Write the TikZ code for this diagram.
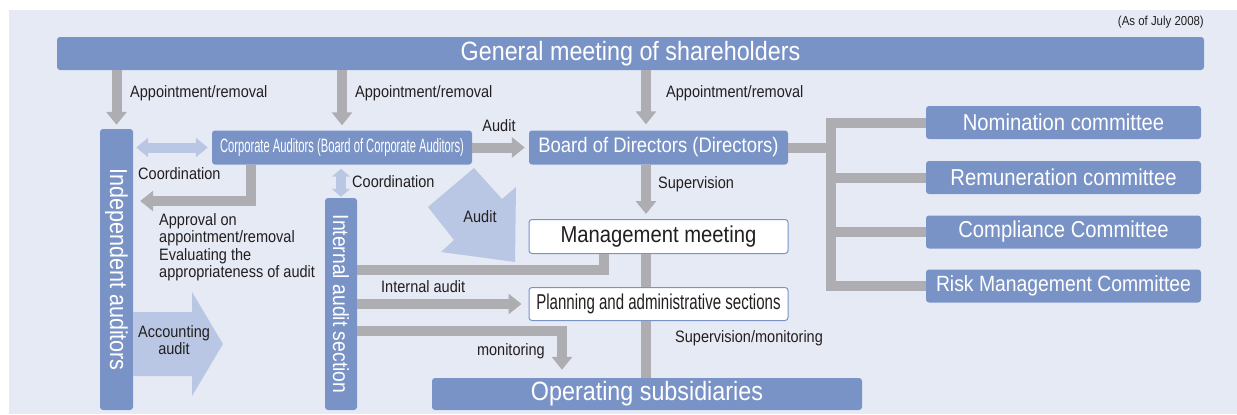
\documentclass[tikz,border=0pt]{standalone}
\usepackage{fontspec}
\setmainfont{Liberation Sans}[FakeStretch=0.88]
\newfontfamily\corpfont{Liberation Sans}[FakeStretch=0.58]
\newfontfamily\planfont{Liberation Sans}[FakeStretch=0.70]
\usepackage{xcolor}
\usepackage{tikz}
\usetikzlibrary{arrows.meta, positioning, calc}
\definecolor{bgblue}{HTML}{E6EAF5}
\definecolor{boxblue}{HTML}{7A93C6}
\definecolor{arrowgray}{HTML}{AEADB2}
\definecolor{lightarrow}{HTML}{BAC7E4}
\definecolor{textdark}{HTML}{231F20}
\tikzset{
    bluebox/.style={rectangle, rounded corners=3pt, fill=boxblue, text=white, inner sep=0pt},
    whitebox/.style={rectangle, rounded corners=3pt, draw=boxblue, line width=1pt, fill=white, text=textdark, inner sep=0pt},
    grayarrow/.style={draw=arrowgray, line width=10pt, -{Triangle[width=20pt, length=13pt]}},
    grayline/.style={draw=arrowgray, line width=10pt},
    coordarrow/.style={draw=lightarrow, line width=10pt, {Triangle[width=19pt, length=12pt]}-{Triangle[width=19pt, length=12pt]}},
    lbl/.style={text=textdark, inner sep=0pt, font=\fontsize{16.5}{17.5}\selectfont},
    bigfont/.style={font=\fontsize{26.5}{30}\selectfont},
    comfont/.style={font=\fontsize{23}{26}\selectfont}
}

\begin{document}
\begin{tikzpicture}[x=1pt, y=-1pt]
    \useasboundingbox (0,0) rectangle (1237,415);
    \fill[bgblue] (9,10) rectangle (1237,414);

    \node[text=textdark, inner sep=0pt, anchor=east, font=\fontsize{13}{15}\selectfont] (asof) at (1204,22) {(As of July 2008)};

    % Boxes
    \node[bluebox, bigfont, minimum width=1147pt, minimum height=33pt] (gms) at (630.5,53.5) {General meeting of shareholders};
    \node[bluebox, rotate=-90, minimum width=281pt, minimum height=33pt, font=\fontsize{24.5}{28}\selectfont] (indep) at (116.5,269.5) {Independent auditors};
    \node[bluebox, minimum width=260pt, minimum height=34pt, font=\corpfont\fontsize{19.3}{22}\selectfont] (corp) at (342,147.5) {Corporate Auditors (Board of Corporate Auditors)};
    \node[bluebox, minimum width=259pt, minimum height=34pt, font=\fontsize{21}{24}\selectfont] (board) at (658.5,147.5) {Board of Directors (Directors)};
    \node[bluebox, rotate=-90, minimum width=212pt, minimum height=32pt, font=\fontsize{22}{25}\selectfont] (ias) at (341,304) {Internal audit section};
    \node[whitebox, minimum width=259pt, minimum height=34pt, font=\fontsize{23}{26}\selectfont] (mgmt) at (658.5,236.5) {Management meeting};
    \node[whitebox, minimum width=259pt, minimum height=33pt, font=\planfont\fontsize{21.5}{24}\selectfont] (plan) at (658.5,304) {Planning and administrative sections};
    \node[bluebox, bigfont, minimum width=430pt, minimum height=32pt] (ops) at (647,394) {Operating subsidiaries};

    % Committees
    \node[bluebox, comfont, minimum width=275pt, minimum height=33pt] (nom) at (1063.5,122.5) {Nomination committee};
    \node[bluebox, comfont, minimum width=275pt, minimum height=33pt] (rem) at (1063.5,177.5) {Remuneration committee};
    \node[bluebox, comfont, minimum width=275pt, minimum height=33pt] (comp) at (1063.5,232) {Compliance Committee};
    \node[bluebox, font=\fontsize{22}{25}\selectfont, minimum width=275pt, minimum height=33pt] (risk) at (1063.5,286) {Risk Management Committee};

    \coordinate (spine) at (646,0);
    \coordinate (trunk) at (831,0);
    \coordinate (apprv) at (251,201);
    \coordinate (mgturn) at (604,270);
    \coordinate (monturn) at (562,331);

    % Appointment/removal
    \draw[grayarrow, shorten >=4pt] (gms.south -| indep.west) -- (indep.west);
    \draw[grayarrow, shorten >=5pt] (gms.south -| corp.north) -- (corp.north);
    \draw[grayarrow, shorten >=6pt] (gms.south -| spine) -- (board.north -| spine);
    \node[lbl, anchor=west] (appr1) at (130,93) {Appointment/removal};
    \node[lbl, anchor=west] (appr2) at (355,93) {Appointment/removal};
    \node[lbl, anchor=west] (appr3) at (666,93) {Appointment/removal};

    % Auditors
    \draw[coordarrow, shorten <=3pt, shorten >=4pt] (indep.north |- corp.west) -- (corp.west);
    \node[lbl, anchor=west] (coord1) at (138,174) {Coordination};
    \draw[grayarrow, shorten >=4pt] (corp.east) -- (board.west);
    \node[lbl] (auditlbl) at (499,126) {Audit};
    \draw[grayarrow, shorten >=7pt] (corp.south -| apprv) -- (apprv) -- (indep.north |- apprv);
    \node[lbl, anchor=north west, align=left] (approval) at (159,213) {Approval on\\appointment/removal\\Evaluating the\\appropriateness of audit};
    \draw[draw=lightarrow, line width=10pt, {Triangle[width=18pt, length=8pt]}-{Triangle[width=18pt, length=8pt]}, shorten <=4pt, shorten >=1pt] (ias.west |- corp.south) -- (ias.west);
    \node[lbl, anchor=west] (coord2) at (352,182) {Coordination};

    % Big arrows
    \fill[lightarrow] (474,168) -- (502,199) -- (516,187) -- (515,262) -- (441,252) -- (454,240) -- (428,207) -- cycle;
    \node[lbl] (audit2) at (480,217) {Audit};
    \fill[lightarrow] (133,312) -- (192,312) -- (192,292) -- (223,344) -- (192,396) -- (192,376) -- (133,376) -- cycle;
    \node[lbl, align=center] (acclbl) at (174,340) {Accounting\\audit};

    % Management side
    \draw[grayarrow, shorten >=5pt] (board.south -| spine) -- (mgmt.north -| spine);
    \node[lbl, anchor=west] (superv) at (658,184) {Supervision};
    \draw[grayline] (mgmt.south -| mgturn) -- (mgturn) -- (ias.north |- mgturn);
    \draw[grayline] (mgmt.south -| spine) -- (plan.north -| spine);
    \draw[grayline] (plan.south -| spine) -- (ops.north -| spine);
    \node[lbl, anchor=west] (supmon) at (675,338) {Supervision/monitoring};
    \draw[grayarrow, shorten >=7pt] (ias.north |- plan.west) -- (plan.west);
    \node[lbl, anchor=west] (intaudit) at (381,287) {Internal audit};
    \draw[grayarrow, shorten >=8pt] (ias.north |- monturn) -- (monturn) -- (ops.north -| monturn);
    \node[lbl, anchor=east] (monlbl) at (545,351) {monitoring};

    % Committee tree
    \draw[grayline] (board.east) -- (board.east -| trunk);
    \draw[grayline] (nom.west) -| (risk.west -| trunk) -- (risk.west);
    \foreach \c in {rem, comp} \draw[grayline] (\c.west) -- (\c.west -| trunk);
\end{tikzpicture}
\end{document}
